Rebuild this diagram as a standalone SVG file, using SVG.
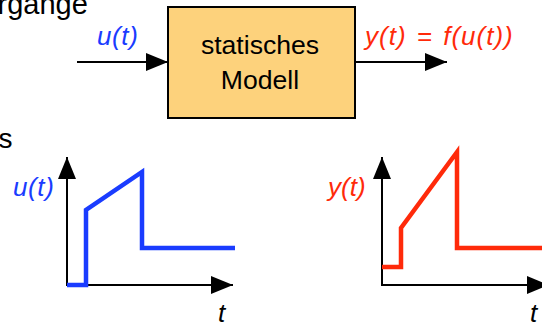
<svg xmlns="http://www.w3.org/2000/svg" width="542" height="325" viewBox="0 0 542 325">
<style>
text{font-family:"Liberation Sans",Arial,sans-serif;font-size:26px}
.v{font-style:italic}
.blue{fill:#1a3cff}
.red{fill:#ff2a0a}
.ax{stroke:#000;stroke-width:2;fill:none}
.sig{stroke-width:4.5;fill:none;stroke-linejoin:miter}
</style>
<defs>
<marker id="ah" markerUnits="userSpaceOnUse" markerWidth="24" markerHeight="20" refX="22" refY="9" orient="auto">
<path d="M0,0 L22,9 L0,18 Z" fill="#000"/>
</marker>
</defs>
<text x="-2.5" y="14" style="font-size:29px">rgange</text>
<text x="-1.5" y="148" style="font-size:28px">s</text>
<g id="connectors">
<line class="ax" x1="77" y1="62" x2="168" y2="62" marker-end="url(#ah)"/>
<line class="ax" x1="355" y1="62" x2="447" y2="62" marker-end="url(#ah)"/>
</g>
<g id="model">
<rect x="168" y="7" width="187" height="111" fill="#fdd27c" stroke="#000" stroke-width="2"/>
<text x="260" y="53.5" text-anchor="middle" style="font-size:26.6px">statisches</text>
<text x="260" y="89" text-anchor="middle" style="font-size:26.6px">Modell</text>
</g>
<g id="labels">
<text class="v blue" x="97" y="45" letter-spacing="0.6">u(t)</text>
<text class="v red" x="365" y="45" letter-spacing="1" word-spacing="2">y(t) = f(u(t))</text>
</g>
<g id="graph-u">
<line class="ax" x1="67" y1="286" x2="67" y2="157" marker-end="url(#ah)"/>
<line class="ax" x1="66" y1="285" x2="233" y2="285" marker-end="url(#ah)"/>
<polyline class="sig" stroke="#1a3cff" points="67,285 86,285 86,210 142,172 142,248 235,248"/>
<text class="v blue" x="13" y="195.5" letter-spacing="0.6">u(t)</text>
<text class="v" x="218" y="322">t</text>
</g>
<g id="graph-y">
<line class="ax" x1="382" y1="286" x2="382" y2="157" marker-end="url(#ah)"/>
<line class="ax" x1="381" y1="285" x2="549" y2="285" marker-end="url(#ah)"/>
<polyline class="sig" stroke="#ff2a0a" points="382,267 401,267 401,228 457,152 457,248 545,248"/>
<text class="v red" x="328" y="196">y(t)</text>
<text class="v" x="530" y="322">t</text>
</g>
</svg>
